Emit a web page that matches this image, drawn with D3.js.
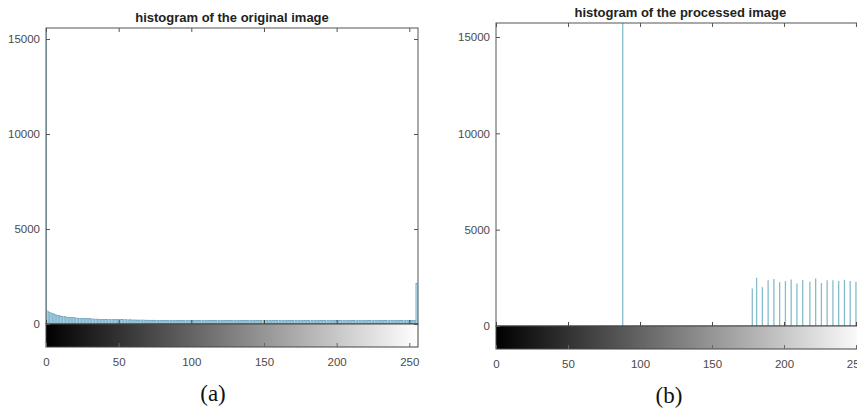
<!DOCTYPE html>
<html lang="en">
<head>
<meta charset="UTF-8">
<title>histograms</title>
<style>
    body { margin: 0; background: #fff; }
    svg { display: block; }
    .tick text { font-family: "Liberation Sans", Arial, sans-serif; font-size: 11.5px; fill: #4a4a4a; }
</style>
</head>
<body>
<svg></svg>
<script src="https://d3js.org/d3.v7.min.js"></script>
<script>
// histogram of the original image, counts for gray levels 0..255
var origCounts = [
    16200, 690, 640, 600, 565, 540, 510, 480, 460, 440, 425, 410, 395, 380, 372, 360,
    350, 345, 335, 330, 322, 318, 310, 305, 300, 298, 292, 288, 284, 280, 276, 272,
    270, 266, 262, 260, 258, 255, 252, 250, 248, 246, 243, 240, 238, 236, 240, 232,
    230, 234, 228, 226, 230, 224, 222, 226, 220, 218, 222, 216, 214, 218, 212, 215,
    210, 212, 208, 214, 206, 204, 210, 202, 205, 200, 206, 198, 202, 196, 200, 204,
    198, 194, 200, 196, 192, 198, 194, 190, 196, 192, 188, 194, 190, 196, 188, 192,
    190, 186, 194, 188, 192, 185, 190, 187, 193, 184, 190, 186, 192, 188, 184, 190,
    186, 192, 184, 188, 182, 190, 186, 183, 189, 185, 191, 182, 187, 184, 190, 186,
    183, 188, 185, 190, 181, 187, 184, 189, 182, 186, 183, 188, 180, 186, 184, 189,
    182, 187, 184, 180, 186, 183, 188, 181, 185, 182, 187, 180, 184, 186, 181, 185,
    183, 179, 186, 182, 185, 180, 184, 181, 187, 179, 183, 186, 180, 184, 182, 178,
    185, 181, 184, 179, 186, 182, 180, 184, 178, 183, 181, 185, 179, 182, 184, 180,
    178, 183, 181, 185, 179, 182, 180, 184, 177, 181, 183, 179, 182, 180, 184, 178,
    181, 183, 179, 176, 182, 180, 184, 178, 181, 177, 183, 179, 180, 182, 176, 181,
    179, 183, 177, 180, 182, 178, 181, 176, 180, 183, 177, 179, 181, 175, 180, 178,
    182, 176, 179, 181, 177, 180, 178, 175, 181, 177, 179, 176, 180, 178, 182, 2150
];

// histogram of the processed image (only non-empty gray levels)
var procLevels = [88, 178, 181, 185, 189, 193, 197, 201, 205, 209, 213, 218, 222, 226, 230, 234, 238, 242, 246, 250, 254];
var procCounts = [16500, 1950, 2510, 2020, 2370, 2440, 2280, 2330, 2420, 2210, 2390, 2300, 2470, 2230, 2370, 2370, 2330, 2400, 2330, 2300, 2350];

var xTicks = [0, 50, 100, 150, 200, 250];
var yTicks = [0, 5000, 10000, 15000];

var svg = d3.select("svg")
    .attr("width", 857)
    .attr("height", 414);

svg.append("rect").attr("width", 857).attr("height", 414).attr("fill", "#fff");

var grad = svg.append("defs").append("linearGradient")
    .attr("id", "gray")
    .attr("x1", "0%").attr("x2", "100%");
grad.append("stop").attr("offset", "0%").attr("stop-color", "#000");
grad.append("stop").attr("offset", "100%").attr("stop-color", "#fff");

function drawPanel(p) {
    var x = d3.scaleLinear().domain([0, 256]).range([p.left, p.right]);
    var y = d3.scaleLinear().domain([0, p.ymax]).range([p.bottom, p.top]);
    var g = svg.append("g");
    var clipId = "clip" + p.id;

    g.append("clipPath").attr("id", clipId)
        .append("rect")
        .attr("x", p.left).attr("y", p.top)
        .attr("width", p.right - p.left).attr("height", p.bottom - p.top);

    var marks = g.append("g").attr("clip-path", "url(#" + clipId + ")");
    if (p.style === "bars") {
        var bw = x(1) - x(0);
        marks.selectAll("rect")
            .data(p.values)
            .enter().append("rect")
            .attr("x", function(d, i) { return x(i) - bw / 2; })
            .attr("y", function(d) { return y(d); })
            .attr("width", bw)
            .attr("height", function(d) { return p.bottom - y(d); })
            .attr("fill", "#a8d2e5")
            .attr("stroke", "#6a9fb8")
            .attr("stroke-width", 0.4);
    } else {
        marks.selectAll("line")
            .data(p.values)
            .enter().append("line")
            .attr("x1", function(d, i) { return x(p.levels[i]); })
            .attr("x2", function(d, i) { return x(p.levels[i]); })
            .attr("y1", p.bottom)
            .attr("y2", function(d) { return y(d); })
            .attr("stroke", "#86bccb")
            .attr("stroke-width", 1.3);
    }

    // plot box
    g.append("rect")
        .attr("x", p.left).attr("y", p.top)
        .attr("width", p.right - p.left).attr("height", p.bottom - p.top)
        .attr("fill", "none").attr("stroke", "#555").attr("stroke-width", 1);

    // gray colorbar under the axes
    g.append("rect")
        .attr("x", p.left).attr("y", p.bottom)
        .attr("width", p.right - p.left).attr("height", p.cbar)
        .attr("fill", "url(#gray)").attr("stroke", "#444").attr("stroke-width", 1);

    // y axis with inward ticks
    g.append("g")
        .attr("transform", "translate(" + p.left + ",0)")
        .call(d3.axisLeft(y).tickValues(yTicks).tickFormat(d3.format("d"))
            .tickSizeInner(-4).tickSizeOuter(0).tickPadding(6))
        .call(function(a) { a.select(".domain").remove(); })
        .selectAll("line").attr("stroke", "#555");
    g.append("g")
        .attr("transform", "translate(" + p.right + ",0)")
        .call(d3.axisRight(y).tickValues(yTicks).tickSizeInner(-4).tickSizeOuter(0).tickFormat(""))
        .call(function(a) { a.select(".domain").remove(); })
        .selectAll("line").attr("stroke", "#555");

    // x ticks on top edge and at the baseline
    g.append("g")
        .attr("transform", "translate(0," + p.top + ")")
        .call(d3.axisTop(x).tickValues(xTicks).tickSizeInner(-4).tickSizeOuter(0).tickFormat(""))
        .call(function(a) { a.select(".domain").remove(); })
        .selectAll("line").attr("stroke", "#555");
    g.append("g")
        .attr("transform", "translate(0," + p.bottom + ")")
        .call(d3.axisBottom(x).tickValues(xTicks).tickSizeInner(-4).tickSizeOuter(0).tickFormat(""))
        .call(function(a) { a.select(".domain").remove(); })
        .selectAll("line").attr("stroke", "#444");

    // x labels under the colorbar
    g.append("g")
        .attr("transform", "translate(0," + (p.bottom + p.cbar) + ")")
        .call(d3.axisBottom(x).tickValues(xTicks).tickFormat(d3.format("d"))
            .tickSizeInner(-4).tickSizeOuter(0).tickPadding(11))
        .call(function(a) { a.select(".domain").remove(); })
        .selectAll("line").attr("stroke", "#666");

    g.append("text")
        .attr("x", (p.left + p.right) / 2)
        .attr("y", p.top - 6)
        .attr("text-anchor", "middle")
        .attr("font-family", "Liberation Sans, Arial, sans-serif")
        .attr("font-weight", "bold")
        .attr("font-size", 13)
        .attr("fill", "#222")
        .text(p.title);

    g.append("text")
        .attr("x", p.capX)
        .attr("y", p.capY)
        .attr("text-anchor", "middle")
        .attr("font-family", "Liberation Serif, Times New Roman, serif")
        .attr("font-size", 23)
        .attr("fill", "#111")
        .text(p.caption);
}

drawPanel({
    id: "a", style: "bars", values: origCounts,
    left: 46, right: 418, top: 28, bottom: 324, cbar: 23, ymax: 15579,
    title: "histogram of the original image", caption: "(a)", capX: 213, capY: 401
});

drawPanel({
    id: "b", style: "stems", values: procCounts, levels: procLevels,
    left: 496, right: 864.6, top: 23, bottom: 326, cbar: 23, ymax: 15727,
    title: "histogram of the processed image", caption: "(b)", capX: 669, capY: 403
});
</script>
</body>
</html>
